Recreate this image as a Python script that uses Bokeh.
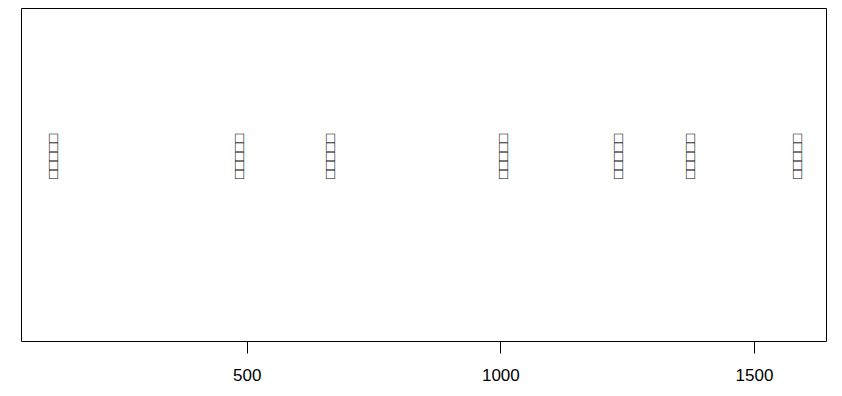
import math
from bokeh.plotting import figure
from bokeh.models import Range1d, FixedTicker, ColumnDataSource
from bokeh.core.properties import value
from bokeh.embed import file_html
from bokeh.resources import INLINE

# data
positions = [117, 483, 663, 1004, 1230, 1371, 1583]
labels = ["□□□□□"] * len(positions)
levels = [1] * len(positions)
tick_values = [500, 1000, 1500]

src = ColumnDataSource(dict(x=positions, y=levels, t=labels))

p = figure(width=842, height=396, output_backend="svg", toolbar_location=None,
           x_range=Range1d(55, 1642), y_range=Range1d(0, 2),
           min_border_left=21, min_border_right=16, min_border_top=8, min_border_bottom=55)
p.background_fill_color = "white"
p.border_fill_color = "white"
p.outline_line_color = "black"
p.outline_line_width = 1
p.xgrid.visible = False
p.ygrid.visible = False
p.yaxis.visible = False

ax = p.xaxis[0]
ax.ticker = FixedTicker(ticks=tick_values)
ax.axis_line_color = None
ax.major_tick_line_color = "black"
ax.major_tick_out = 12
ax.major_tick_in = 0
ax.minor_tick_line_color = None
ax.major_label_text_font = "Liberation Sans"
ax.major_label_text_font_size = "17px"
ax.major_label_text_color = "black"
ax.major_label_standoff = 15

p.text(x="x", y="y", text="t", source=src, angle=math.pi / 2,
       text_align="left", text_baseline="middle", y_offset=4,
       text_font=value("Liberation Sans"), text_font_size="15px",
       text_font_style="bold", text_color="black")

open("out.html", "w").write(file_html(p, INLINE))
